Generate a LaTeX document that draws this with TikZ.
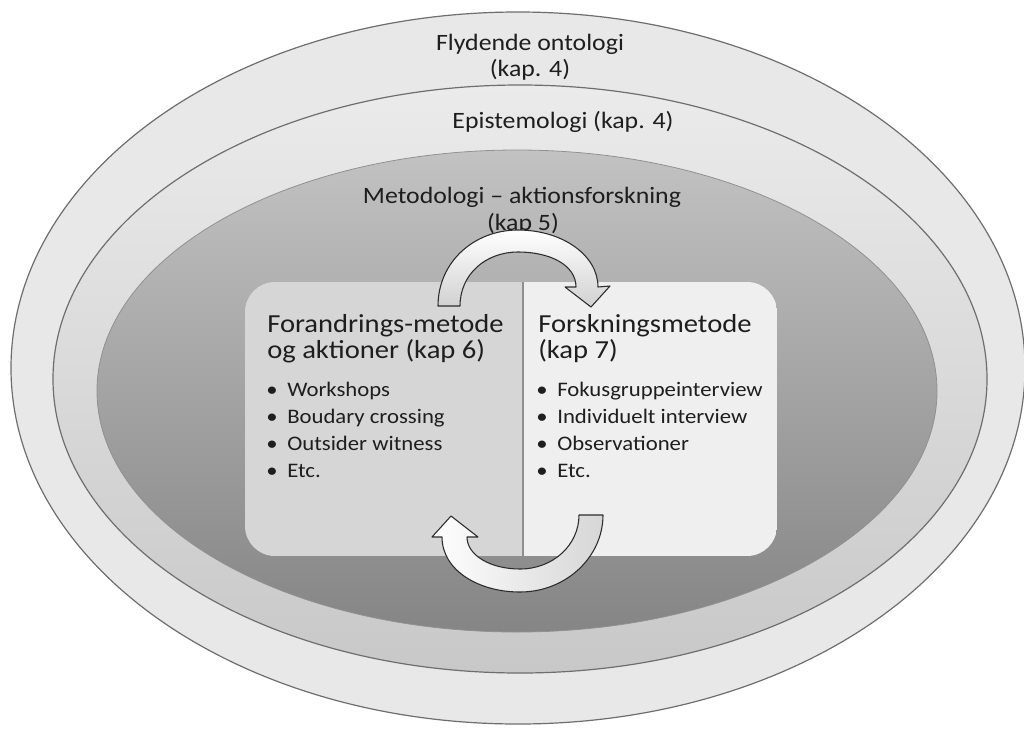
\documentclass[tikz,border=0pt]{standalone}
\usepackage{fontspec}
\setmainfont{Carlito}[FakeStretch=1.1]
\usetikzlibrary{shapes.geometric}
\definecolor{ringline}{HTML}{6E6E6E}
\definecolor{outerfill}{HTML}{E8E8E8}
\definecolor{midtop}{HTML}{EBEBEB}
\definecolor{midmid}{HTML}{E3E3E3}
\definecolor{midbot}{HTML}{C8C8C8}
\definecolor{innertop}{HTML}{C2C2C2}
\definecolor{innerbot}{HTML}{858585}
\definecolor{leftbox}{HTML}{D6D6D6}
\definecolor{rightbox}{HTML}{EFEFEF}
\definecolor{divider}{HTML}{8E8E8E}
\definecolor{arrowline}{HTML}{2B2B2B}
\definecolor{txt}{HTML}{1E1E1E}
\begin{document}
\begin{tikzpicture}[x=0.75pt,y=-0.75pt,
  ring/.style={draw=ringline, line width=0.9pt},
  lbl/.style={inner sep=0pt, text=txt, font=\fontsize{17.6}{20}\selectfont},
  head/.style={inner sep=0pt, text=txt, font=\fontsize{19.5}{22}\selectfont, anchor=base west},
  itm/.style={inner sep=0pt, text=txt, font=\fontsize{15.5}{18}\selectfont, anchor=base west},
  bul/.style={inner sep=0pt, text=txt, font=\fontsize{15.5}{18}\selectfont, anchor=base},
  cyclearrow/.style={draw=arrowline, line width=0.8pt, line join=round}]
\useasboundingbox (0,0) rectangle (1024,729);
\fill[white] (0,0) rectangle (1024,729);

% nested ellipses: ontology, epistemology, methodology
\path[ring, fill=outerfill] (518,368) ellipse [x radius=507, y radius=356];
\path[ring, top color=midtop, middle color=midmid, bottom color=midbot]
  (520,379) ellipse [x radius=467, y radius=294];
\path[draw=innerbot!90, line width=0.6pt, top color=innertop, bottom color=innerbot]
  (517,391) ellipse [x radius=420, y radius=241];

% ring labels
\node[lbl, anchor=base] (ont1) at (530,50) {Flydende ontologi};
\node[lbl, anchor=base] (ont2) at (530,76) {(kap. 4)};
\node[lbl, anchor=base] (epi) at (563,128) {Epistemologi (kap. 4)};
\node[lbl, anchor=base] (met1) at (522,203) {Metodologi – aktionsforskning};
\node[lbl, anchor=base] (met2) at (523,230) {(kap 5)};

% the two method panels
\begin{scope}
  \clip[rounded corners=22.5pt] (245,282) rectangle (777,556);
  \fill[leftbox] (245,282) rectangle (522,556);
  \fill[rightbox] (522,282) rectangle (777,556);
\end{scope}
\draw[divider, line width=1.5pt] (522.5,282) -- (522.5,556);

\node[head] (lh1) at (267,332) {Forandrings-metode};
\node[head] (lh2) at (267,358) {og aktioner (kap 6)};
\node[head] (rh1) at (538,332) {Forskningsmetode};
\node[head] (rh2) at (538,358) {(kap 7)};

\foreach \t [count=\i] in {Workshops, Boudary crossing, Outsider witness, Etc.} {
  \node[bul] (lb\i) at (272,369+27*\i) {•};
  \node[itm] (lt\i) at (287,369+27*\i) {\t};
}
\foreach \t [count=\i] in {Fokusgruppeinterview, Individuelt interview, Observationer, Etc.} {
  \node[bul] (rb\i) at (542,369+27*\i) {•};
  \node[itm] (rt\i) at (557,369+27*\i) {\t};
}

% circular arrows between the panels
\path[cyclearrow, top color=white, bottom color=black!18]
  (438,306) .. controls (438,262) and (474,230) .. (518,230)
  .. controls (562,230) and (598,255) .. (598,287)
  -- (610,286) -- (591,307) -- (565,287) -- (576,287)
  .. controls (576,265) and (550,252) .. (518,252)
  .. controls (486,252) and (460,274) .. (460,306) -- cycle;
\path[cyclearrow, left color=white, right color=black!16]
  (603,515) .. controls (603,557) and (566,592) .. (520,592)
  .. controls (478,592) and (442,570) .. (442,537)
  -- (432,537) -- (451,516) -- (478,537) -- (467,537)
  .. controls (467,555) and (490,569) .. (520,569)
  .. controls (553,569) and (579,545) .. (579,515) -- cycle;
\end{tikzpicture}
\end{document}
